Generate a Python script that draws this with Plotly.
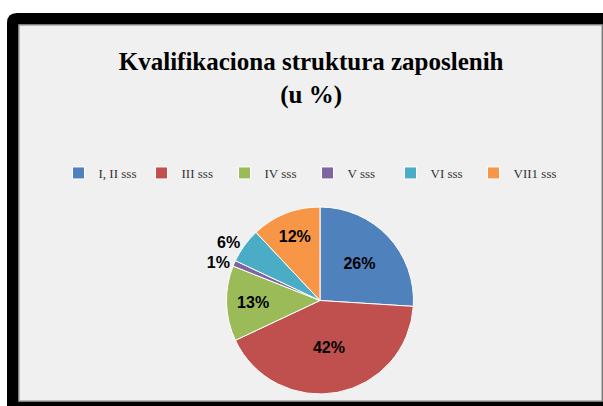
import plotly.graph_objects as go

categories = ["I, II sss", "III sss", "IV sss", "V sss", "VI sss", "VII1 sss"]
values = [26, 42, 13, 1, 6, 12]
colors = ["#4F81BD", "#C0504D", "#9BBB59", "#8064A2", "#4BACC6", "#F79646"]
title_lines = ["Kvalifikaciona struktura zaposlenih", "(u %)"]

W, H = 603, 406

def px(x):
    return x / W

def py(y):
    return 1 - y / H

fig = go.Figure()
fig.add_trace(go.Pie(
    labels=categories,
    values=values,
    sort=False,
    direction="clockwise",
    rotation=0,
    marker=dict(colors=colors, line=dict(color="white", width=1)),
    texttemplate="%{percent:.0%}",
    textposition=["inside", "inside", "inside", "outside", "outside", "inside"],
    insidetextorientation="horizontal",
    textfont=dict(family="Liberation Sans Narrow, Liberation Sans, Arial", size=16, color="black", weight="bold"),
    domain=dict(x=[px(320 - 100), px(320 + 100)], y=[py(394), py(207)]),
    hoverinfo="label+percent",
    showlegend=True,
))

shapes = [
    dict(type="path", xref="paper", yref="paper",
         path=f"M {px(7)},{py(406)} L {px(7)},{py(23)} Q {px(7)},{py(13)} {px(17)},{py(13)} L {px(603)},{py(13)} L {px(603)},{py(406)} Z",
         fillcolor="black", line=dict(width=0), layer="below"),
    dict(type="rect", xref="paper", yref="paper",
         x0=px(19), x1=px(602), y0=py(401), y1=py(25),
         fillcolor="#F0F0F0", line=dict(color="#A6A6A6", width=1.5), layer="below"),
]

fig.update_layout(
    width=W, height=H,
    margin=dict(l=0, r=0, t=0, b=0),
    paper_bgcolor="white",
    plot_bgcolor="rgba(0,0,0,0)",
    shapes=shapes,
    title=dict(
        text="<b>" + title_lines[0] + "<br>" + title_lines[1] + "</b>",
        x=0.516, xanchor="center", y=py(70), yanchor="top",
        font=dict(family="Liberation Serif, Times New Roman, serif", size=25, color="black"),
    ),
    legend=dict(
        orientation="h", x=0.51, xanchor="center", y=py(173), yanchor="middle",
        font=dict(family="Liberation Serif, Times New Roman, serif", size=13, color="#333333"),
        bgcolor="rgba(0,0,0,0)", itemwidth=30, traceorder="normal",
        entrywidth=38, entrywidthmode="pixels",
    ),
)

fig.write_html("out.html", config={"displayModeBar": False},
               post_script="document.body.style.margin='0';document.body.style.overflow='hidden';")
